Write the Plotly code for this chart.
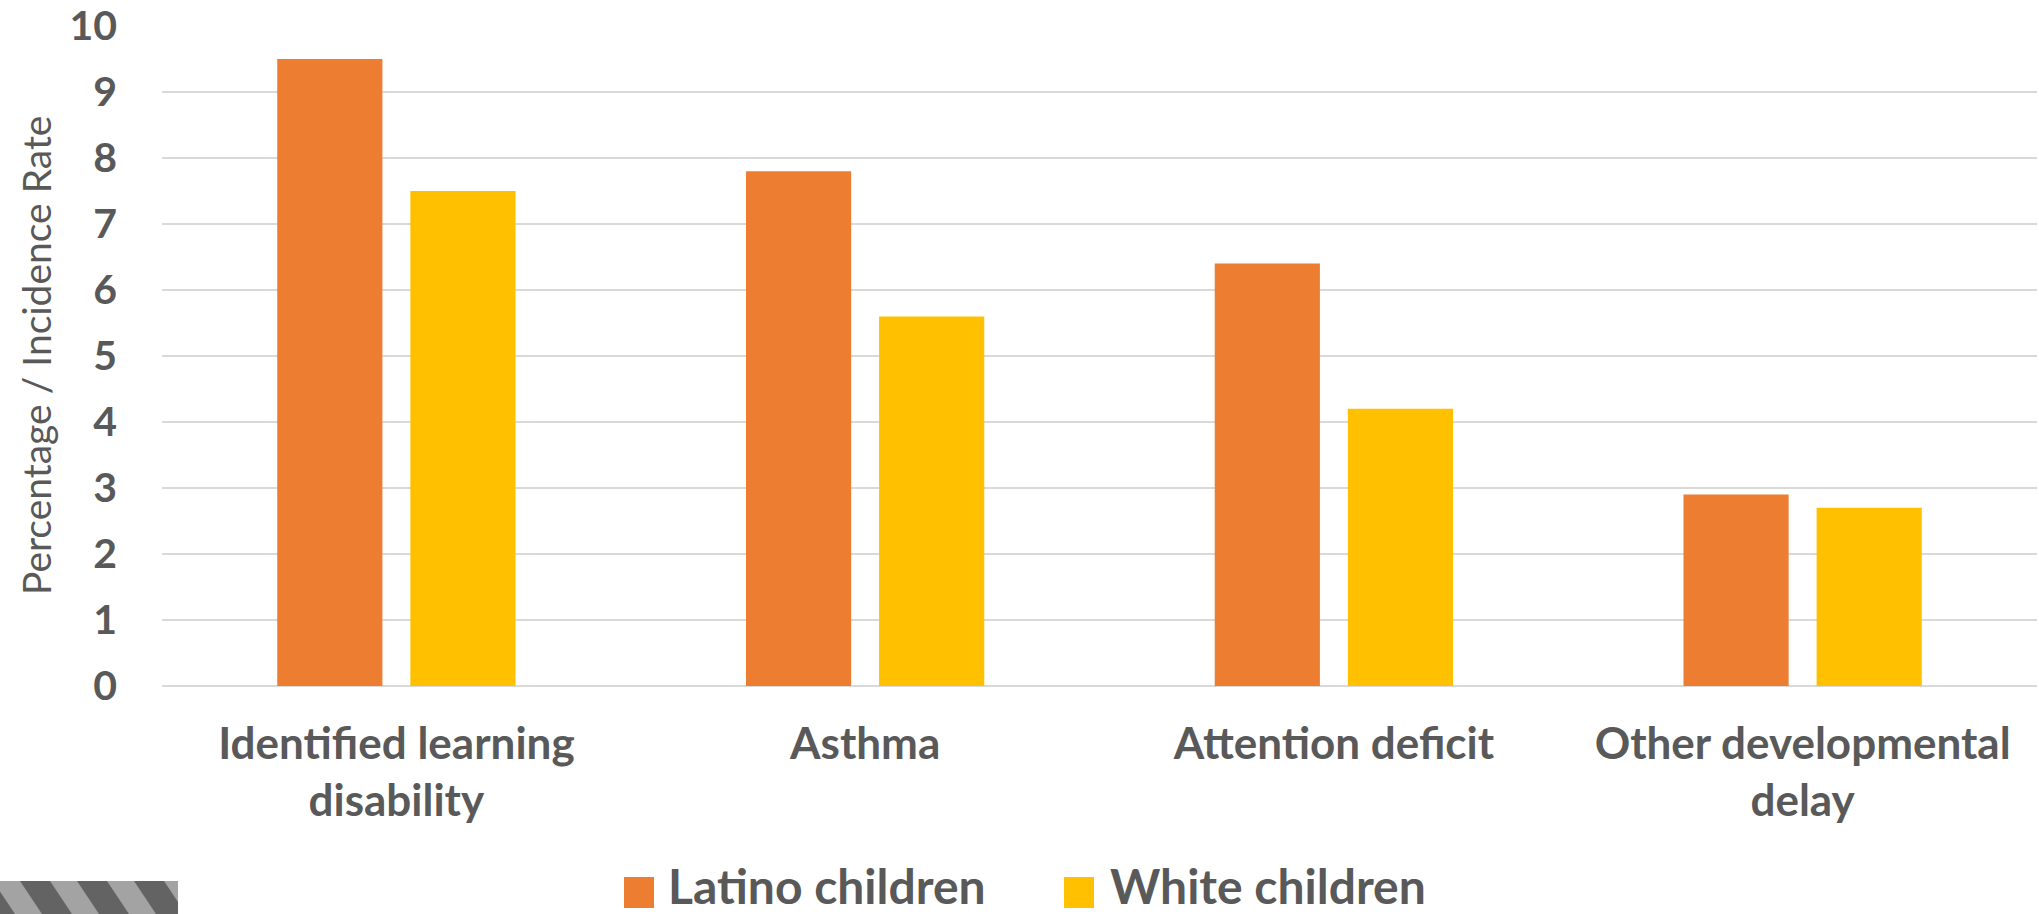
import plotly.graph_objects as go

# Chart data
categories = [
    "Identified learning<br>disability",
    "Asthma",
    "Attention deficit",
    "Other developmental<br>delay",
]
series_names = ["Latino children", "White children"]
latino_values = [9.5, 7.8, 6.4, 2.9]
white_values = [7.5, 5.6, 4.2, 2.7]
y_ticks = list(range(0, 11))
y_title = "Percentage / Incidence Rate"

# Styling
W, H = 2039, 914
M_LEFT, M_RIGHT, M_TOP, M_BOTTOM = 162, 2, 26, 228
TEXT = "#595959"
GRID = "#d9d9d9"
COLORS = ["#ED7D31", "#FFC000"]
FONT = "Lato"

plot_w = W - M_LEFT - M_RIGHT
plot_h = H - M_TOP - M_BOTTOM


def px_x(px):
    """Pixel x -> paper x."""
    return (px - M_LEFT) / plot_w


def px_y(py):
    """Pixel y (from top) -> paper y."""
    return (H - M_BOTTOM - py) / plot_h


fig = go.Figure()
for name, vals, color in zip(series_names, [latino_values, white_values], COLORS):
    fig.add_trace(go.Bar(
        x=categories, y=vals, name=name,
        marker=dict(color=color, line=dict(width=0)),
        showlegend=False,
    ))

# Legend drawn as swatches + labels
legend_items = [(624, 666), (1064, 1108)]
shapes = []
annotations = []
for (sx, tx), name, color in zip(legend_items, series_names, COLORS):
    shapes.append(dict(
        type="rect", xref="paper", yref="paper",
        x0=px_x(sx), x1=px_x(sx + 30), y0=px_y(908), y1=px_y(877),
        fillcolor=color, line=dict(width=0),
    ))
    annotations.append(dict(
        xref="paper", yref="paper", x=px_x(tx), y=px_y(885),
        xanchor="left", yanchor="middle", showarrow=False, text=name,
        font=dict(family=FONT, size=48, color=TEXT, weight="bold"),
    ))

# Vertical axis title
annotations.append(dict(
    xref="paper", yref="paper", x=px_x(36), y=0.5,
    xanchor="center", yanchor="middle", showarrow=False, textangle=-90,
    text=y_title, font=dict(family=FONT, size=39, color=TEXT, weight=400),
))

# Striped strip in the lower-left corner
shapes.append(dict(
    type="rect", xref="paper", yref="paper",
    x0=px_x(0), x1=px_x(178), y0=px_y(914), y1=px_y(881),
    fillcolor="#a3a3a3", line=dict(width=0), layer="above",
))
bands = [
    [(0, 891.5), (15, 914), (0, 914)],
    [(20, 881), (50, 881), (72, 914), (42, 914)],
    [(77, 881), (107, 881), (129, 914), (99, 914)],
    [(134, 881), (164, 881), (178, 902), (178, 914), (156, 914)],
]
for poly in bands:
    path = "M " + " L ".join(f"{px_x(x):.5f},{px_y(y):.5f}" for x, y in poly) + " Z"
    shapes.append(dict(
        type="path", xref="paper", yref="paper", path=path,
        fillcolor="#636363", line=dict(width=0), layer="above",
    ))

fig.update_layout(
    width=W, height=H,
    margin=dict(l=M_LEFT, r=M_RIGHT, t=M_TOP, b=M_BOTTOM, autoexpand=False),
    paper_bgcolor="white", plot_bgcolor="white",
    barmode="group", bargap=0.432, bargroupgap=0.21,
    showlegend=False,
    shapes=shapes, annotations=annotations,
    xaxis=dict(
        showgrid=False, showline=False, zeroline=False, ticks="",
        tickfont=dict(family=FONT, size=44, color=TEXT, weight="bold"),
        ticklabelstandoff=28,
        automargin=False,
    ),
    yaxis=dict(
        range=[0, 10], tickvals=y_ticks, ticktext=[str(v) for v in y_ticks],
        showgrid=True, gridcolor=GRID, gridwidth=2,
        zeroline=True, zerolinecolor=GRID, zerolinewidth=2,
        showline=False, ticks="",
        tickfont=dict(family=FONT, size=41, color=TEXT, weight="bold"),
        ticklabelstandoff=44,
        automargin=False,
    ),
)

fig.write_html("out.html")
